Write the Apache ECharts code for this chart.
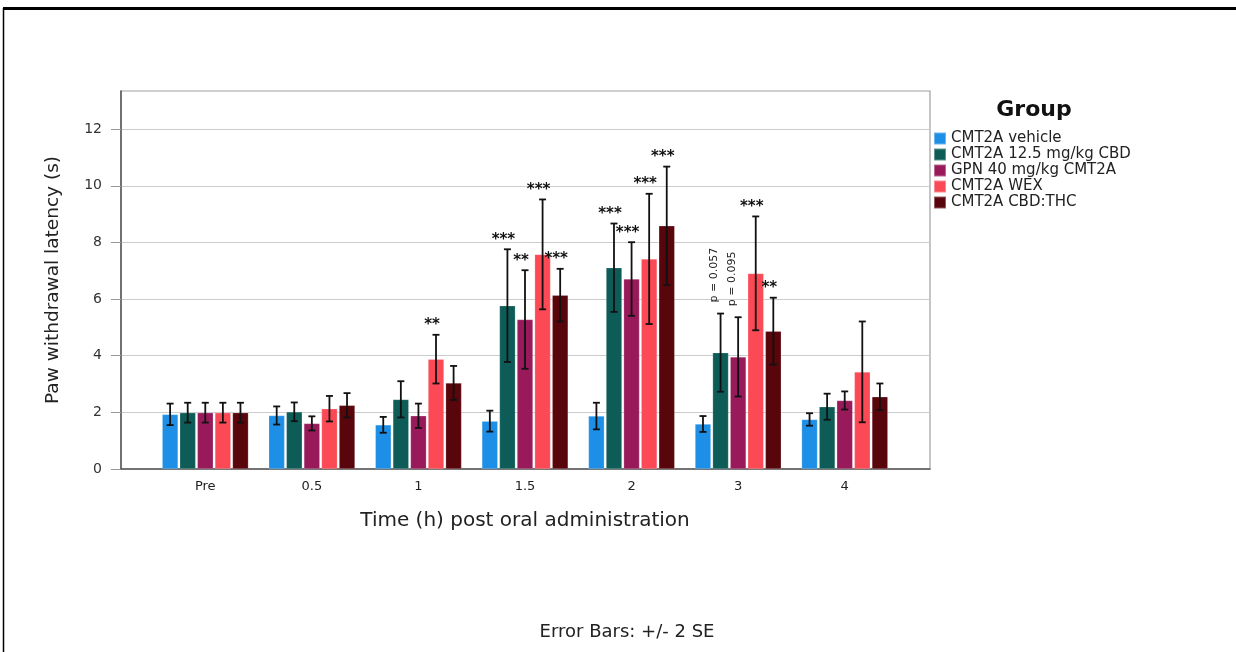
<!DOCTYPE html>
<html>
<head>
<meta charset="utf-8">
<script src="https://cdn.jsdelivr.net/npm/echarts@6/dist/echarts.min.js"></script>
<style>
html,body{margin:0;padding:0;background:#fff;}
#chart{width:1236px;height:652px;}
</style>
</head>
<body>
<div id="chart"></div>
<script>
const categories = ['Pre', '0.5', '1', '1.5', '2', '3', '4'];
const groups = ['CMT2A vehicle', 'CMT2A 12.5 mg/kg CBD', 'GPN 40 mg/kg CMT2A', 'CMT2A WEX', 'CMT2A CBD:THC'];
const colors = ['#1e8fe6', '#0d5c58', '#981a5a', '#fb4a55', '#58050b'];
const yTicks = [0, 2, 4, 6, 8, 10, 12];

const vehicleMean = [1.93, 1.89, 1.56, 1.69, 1.87, 1.59, 1.75];
const vehicleErr  = [0.38, 0.32, 0.28, 0.37, 0.47, 0.28, 0.22];
const vehicleSig  = ['', '', '', '', '', '', ''];

const cbdMean = [1.99, 2.02, 2.46, 5.77, 7.11, 4.11, 2.20];
const cbdErr  = [0.35, 0.33, 0.64, 1.99, 1.56, 1.38, 0.46];
const cbdSig  = ['', '', '', '***', '***', 'p = 0.057', ''];

const gpnMean = [1.99, 1.61, 1.88, 5.28, 6.71, 3.96, 2.42];
const gpnErr  = [0.35, 0.25, 0.43, 1.74, 1.30, 1.40, 0.32];
const gpnSig  = ['', '', '', '**', '***', 'p = 0.095', ''];

const wexMean = [1.99, 2.13, 3.88, 7.58, 7.42, 6.91, 3.43];
const wexErr  = [0.35, 0.45, 0.86, 1.94, 2.30, 2.01, 1.78];
const wexSig  = ['', '', '**', '***', '***', '***', ''];

const thcMean = [1.99, 2.25, 3.04, 6.14, 8.59, 4.87, 2.55];
const thcErr  = [0.35, 0.43, 0.60, 0.93, 2.09, 1.18, 0.47];
const thcSig  = ['', '', '', '***', '***', '**', ''];

const means = [vehicleMean, cbdMean, gpnMean, wexMean, thcMean];
const errs = [vehicleErr, cbdErr, gpnErr, wexErr, thcErr];
const sigs = [vehicleSig, cbdSig, gpnSig, wexSig, thcSig];

const FONT = 'DejaVu Sans';
const CAT_GAP = 0.19, BAR_GAP = 0.10, N = groups.length;
const Y_MAX = 13.35;

function errSeries(si) {
  return {
    type: 'custom', xAxisIndex: 1, yAxisIndex: 1, z: 10, silent: true,
    data: means[si].map((m, i) => [i, m, errs[si][i]]),
    renderItem(params, api) {
      const ci = api.value(0), m = api.value(1), e = api.value(2);
      const sig = sigs[si][params.dataIndex];
      const c = api.coord([ci, m]);
      const band = api.size([1, 0])[0];
      const used = band * (1 - CAT_GAP);
      const bw = used / (N + (N - 1) * BAR_GAP);
      const x = c[0] - used / 2 + si * bw * (1 + BAR_GAP) + bw / 2;
      const yT = api.coord([ci, m + e])[1];
      const yB = api.coord([ci, m - e])[1];
      const st = { stroke: '#111', lineWidth: 1.8 };
      const ch = [
        { type: 'line', shape: { x1: x, y1: yT, x2: x, y2: yB }, style: st },
        { type: 'line', shape: { x1: x - 3.5, y1: yT, x2: x + 3.5, y2: yT }, style: st },
        { type: 'line', shape: { x1: x - 3.5, y1: yB, x2: x + 3.5, y2: yB }, style: st }
      ];
      if (sig && sig[0] === 'p') {
        ch.push({ type: 'text', x: x - 6, y: yT - 11, rotation: Math.PI / 2,
          style: { text: sig, align: 'left', verticalAlign: 'middle', font: '11px ' + FONT, fill: '#222' } });
      } else if (sig) {
        ch.push({ type: 'text', x: x - 4, y: yT - 2,
          style: { text: sig, align: 'center', verticalAlign: 'bottom', font: 'bold 15px ' + FONT, fill: '#111' } });
      }
      return { type: 'group', children: ch };
    }
  };
}

const chart = echarts.init(document.getElementById('chart'), null, { renderer: 'canvas' });
const series = groups.map((g, si) => ({
  name: g, type: 'bar', xAxisIndex: 1, yAxisIndex: 1,
  barCategoryGap: (CAT_GAP * 100) + '%', barGap: (BAR_GAP * 100) + '%',
  itemStyle: { color: colors[si], borderColor: 'rgba(255,255,255,0.35)', borderWidth: 0.6 },
  data: means[si]
})).concat(groups.map((g, si) => errSeries(si)));

chart.setOption({
  animation: false,
  backgroundColor: '#fff',
  textStyle: { fontFamily: FONT },
  grid: [
    { left: 121, right: 306, top: 91, bottom: 183, show: true, borderColor: '#a0a0a0', borderWidth: 1.2, backgroundColor: 'transparent' },
    { left: 152, right: 338, top: 91, bottom: 183 }
  ],
  xAxis: [
    { gridIndex: 0, type: 'value', min: 0, max: 1,
      axisLine: { show: true, onZero: false, lineStyle: { color: '#555', width: 1.5 } },
      axisTick: { show: false }, axisLabel: { show: false }, splitLine: { show: false } },
    { gridIndex: 1, type: 'category', data: categories,
      axisLine: { show: false }, axisTick: { show: false },
      axisLabel: { color: '#222', fontSize: 13, margin: 11, fontFamily: FONT },
      name: 'Time (h) post oral administration', nameLocation: 'middle', nameGap: 42,
      nameTextStyle: { color: '#222', fontSize: 20, fontFamily: FONT } }
  ],
  yAxis: [
    { gridIndex: 0, type: 'value', min: 0, max: Y_MAX, interval: 2,
      axisLine: { show: true, lineStyle: { color: '#555', width: 1.5 } },
      axisTick: { show: true, length: 10, customValues: yTicks, lineStyle: { color: '#999' } },
      axisLabel: { customValues: yTicks, color: '#333', fontSize: 14, margin: 19, fontFamily: FONT },
      splitLine: { show: true, lineStyle: { color: '#cccccc', width: 1 } },
      name: 'Paw withdrawal latency (s)', nameLocation: 'middle', nameGap: 58, nameRotate: 90,
      nameTextStyle: { color: '#222', fontSize: 18.5, fontFamily: FONT } },
    { gridIndex: 1, type: 'value', min: 0, max: Y_MAX, show: false, splitLine: { show: false } }
  ],
  legend: {
    data: groups, orient: 'vertical', left: 931, top: 130, padding: [1, 2, 1, 2],
    itemWidth: 12, itemHeight: 12, itemGap: 1, icon: 'rect', backgroundColor: '#fff',
    textStyle: { color: '#222', fontSize: 15, fontFamily: FONT }
  },
  graphic: [
    { type: 'text', x: 1034, y: 110, style: { text: 'Group', align: 'center', verticalAlign: 'middle', font: 'bold 22px ' + FONT, fill: '#111' } },
    { type: 'text', x: 627, y: 632, style: { text: 'Error Bars: +/- 2 SE', align: 'center', verticalAlign: 'middle', font: '18px ' + FONT, fill: '#222' } },
    { type: 'line', shape: { x1: 3, y1: 8.5, x2: 1236, y2: 8.5 }, style: { stroke: '#000', lineWidth: 3 } },
    { type: 'line', shape: { x1: 3.5, y1: 8, x2: 3.5, y2: 652 }, style: { stroke: '#000', lineWidth: 1.5 } }
  ],
  series: series
});
</script>
</body>
</html>
